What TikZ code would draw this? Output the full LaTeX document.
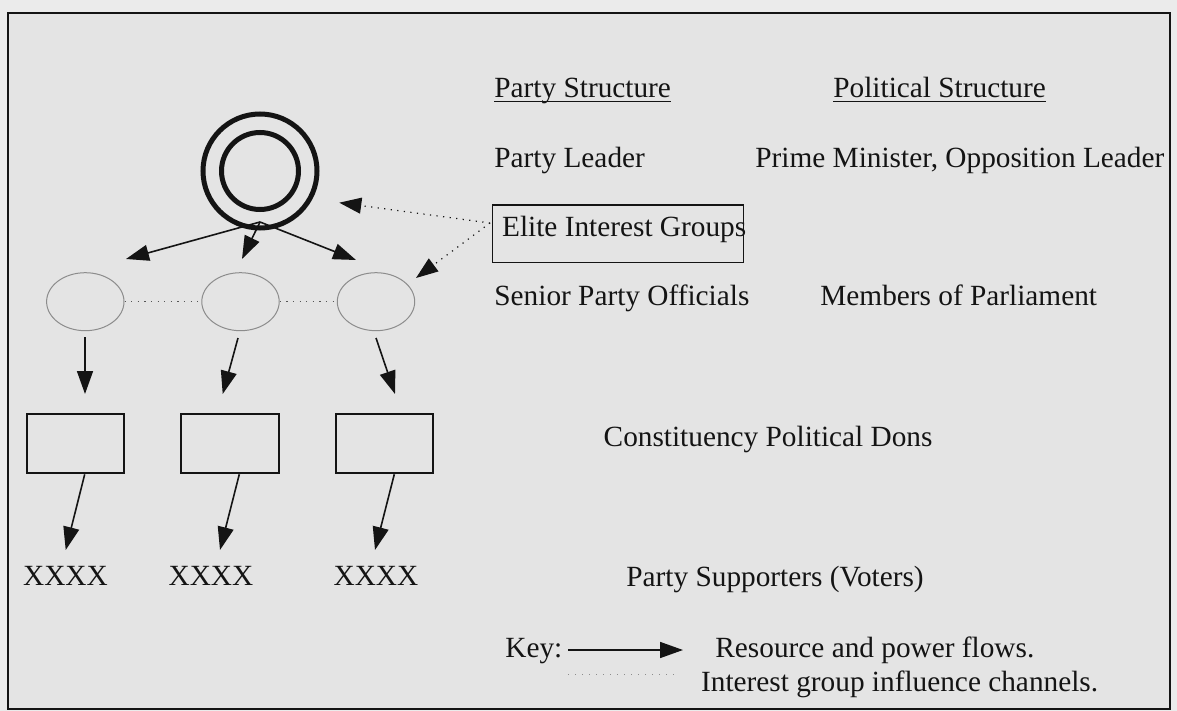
\documentclass[tikz,border=0pt]{standalone}
\usepackage{fontspec}
\setmainfont{Liberation Serif}
\usetikzlibrary{arrows.meta,shapes.geometric,calc}
\definecolor{pagebg}{HTML}{EBEBEB}
\definecolor{panelbg}{HTML}{E4E4E4}
\definecolor{ink}{HTML}{141414}
\definecolor{ovalline}{HTML}{8C8C8C}
\definecolor{dotink}{HTML}{555555}

\begin{document}
\begin{tikzpicture}[x=0.5pt,y=-0.5pt,
  lbl/.style={inner sep=0pt, anchor=base west, text=ink, font=\fontsize{14.65}{17}\selectfont},
  xlbl/.style={inner sep=0pt, anchor=base, text=ink, font=\fontsize{14.65}{17}\selectfont},
  flow/.style={draw=ink, line width=0.8pt, -{Triangle[length=11.5pt,width=8pt]}},
  infl/.style={draw=ink, line width=0.6pt, dash pattern=on 0.6pt off 2.7pt, -{Triangle[length=11pt,width=8pt]}},
  link/.style={draw=dotink, line width=0.6pt, dash pattern=on 0.6pt off 2.7pt},
  ring/.style={circle, draw=ink, line width=2.5pt, inner sep=0pt},
  oval/.style={ellipse, draw=ovalline, line width=0.5pt, inner sep=0pt, minimum width=38.7pt, minimum height=29pt},
  unitbox/.style={rectangle, draw=ink, line width=1pt, inner sep=0pt, minimum width=48.7pt, minimum height=29.5pt},
  uline/.style={draw=ink, line width=0.55pt}
]
% page and framed panel
\fill[pagebg] (0,0) rectangle (1177,711);
\fill[panelbg] (8,13) rectangle (1170,709);
\useasboundingbox (0,0) rectangle (1177,711);

\begin{scope}
\clip (8,13) rectangle (1170,709);

% party leader: double ring
\node[ring, minimum size=57pt] (leader) at (260,171) {};
\node[ring, minimum size=38.5pt] (leadercore) at (260,171) {};
\coordinate (hub) at (260,222);

% senior party officials
\node[oval] (e1) at (85.3,301.7) {};
\node[oval] (e2) at (240.5,301.7) {};
\node[oval] (e3) at (376,301.7) {};

% constituency dons
\node[unitbox] (b1) at (75.3,443.8) {};
\node[unitbox] (b2) at (229.8,443.8) {};
\node[unitbox] (b3) at (384.7,443.8) {};

% supporters
\node[xlbl] (x1) at (65.5,585) {XXXX};
\node[xlbl] (x2) at (211,585) {XXXX};
\node[xlbl] (x3) at (376,585) {XXXX};

% arrow tips
\coordinate (t1) at (126,259);
\coordinate (t2) at (242,259);
\coordinate (t3) at (356,260);
\coordinate (s1) at (85,337);
\coordinate (s2) at (238,338);
\coordinate (s3) at (376,338);
\coordinate (u1) at (85,394);
\coordinate (u2) at (222.7,394);
\coordinate (u3) at (395,394);
\coordinate (v1) at (65.7,550);
\coordinate (v2) at (220,550);
\coordinate (v3) at (375,550);

% resource and power flows
\draw[flow] (hub) -- (t1);
\draw[flow] (hub) -- (t2);
\draw[flow] (hub) -- (t3);
\draw[flow] (s1) -- (u1);
\draw[flow] (s2) -- (u2);
\draw[flow] (s3) -- (u3);
\draw[flow] ($(b1.south)+(9.4,0)$) -- (v1);
\draw[flow] ($(b2.south)+(9.5,0)$) -- (v2);
\draw[flow] ($(b3.south)+(9.6,0)$) -- (v3);

% links among officials
\draw[link] (e1.east) -- (e2.west);
\draw[link] (e2.east) -- (e3.west);

% elite interest groups
\node[rectangle, draw=ink, line width=0.6pt, inner sep=0pt, minimum width=125.3pt, minimum height=28.65pt] (elite) at (618,233.7) {};
\node[lbl] (elitetxt) at (501.7,236.7) {Elite Interest Groups};
\coordinate (src) at (490,223);
\coordinate (toleader) at (339.3,202.7);
\coordinate (toofficial) at (416,278);
\draw[infl] (src) -- (toleader);
\draw[infl] (src) -- (toofficial);

% column headings
\node[lbl] (ps) at (494,97.3) {Party Structure};
\node[lbl] (pol) at (833,97.3) {Political Structure};
\draw[uline] ($(ps.base west)+(0,4.5)$) -- ($(ps.base east)+(0,4.5)$);
\draw[uline] ($(pol.base west)+(0,4.5)$) -- ($(pol.base east)+(0,4.5)$);

% levels
\node[lbl] (pl) at (494,167.3) {Party Leader};
\node[lbl] (pm) at (755,167.3) {Prime Minister, Opposition Leader};
\node[lbl] (spo) at (494,305) {Senior Party Officials};
\node[lbl] (mp) at (820,305) {Members of Parliament};
\node[lbl] (cpd) at (603.3,446) {Constituency Political Dons};
\node[lbl] (psv) at (626,586.7) {Party Supporters (Voters)};

% key
\node[lbl] (key) at (505,657.3) {Key:};
\coordinate (ka) at (568,650);
\coordinate (kb) at (683,650);
\draw[flow] (ka) -- (kb);
\node[lbl] (k1) at (715,657.3) {Resource and power flows.};
\coordinate (kc) at (568,674);
\coordinate (kd) at (680,674);
\draw[link, draw=ovalline, line width=0.5pt, dash pattern=on 0.5pt off 3pt] (kc) -- (kd);
\node[lbl] (k2) at (700.7,691.7) {Interest group influence channels.};
\end{scope}

% panel frame
\draw[ink, line width=1pt] (8,13) rectangle (1170,709);
\end{tikzpicture}
\end{document}
